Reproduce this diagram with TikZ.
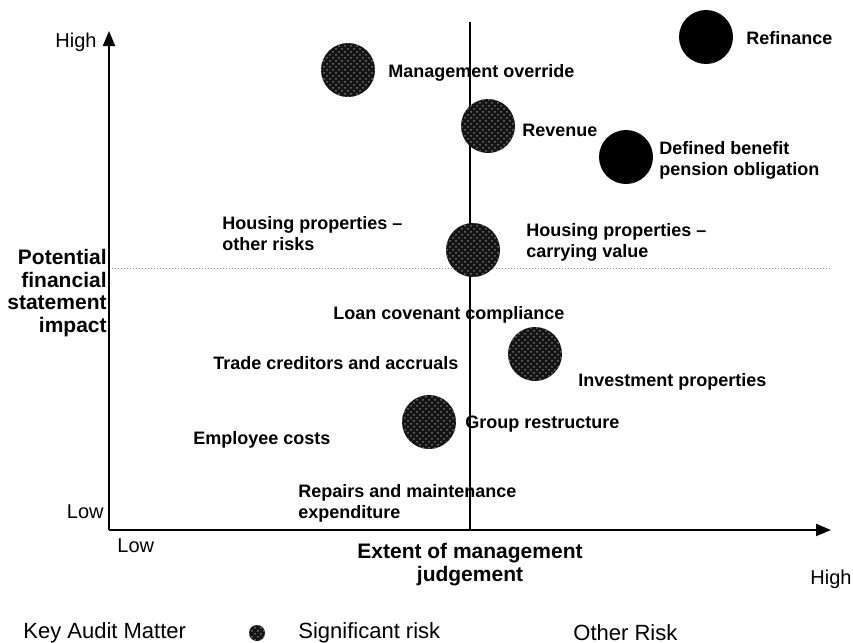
\documentclass[tikz,border=0pt]{standalone}
\usepackage{fontspec}
\setmainfont{Liberation Sans}
\usetikzlibrary{arrows.meta,patterns}

\tikzset{
  sigrisk/.style={circle, inner sep=0pt, minimum size=27pt, fill=black!92,
    postaction={pattern=crosshatch dots, pattern color=black!55}},
  kamrisk/.style={circle, inner sep=0pt, minimum size=27pt, fill=black},
  risklabel/.style={anchor=west, inner sep=0pt, align=left,
    font=\bfseries\fontsize{9}{10.5}\selectfont},
  axislabel/.style={inner sep=0pt, font=\fontsize{10}{12}\selectfont},
  legendlabel/.style={anchor=west, inner sep=0pt, font=\fontsize{11}{13}\selectfont},
  axisline/.style={line width=1pt, -{Triangle[length=7.5pt,width=6pt]}},
}

\begin{document}
\begin{tikzpicture}[x=0.5pt, y=-0.5pt]
\useasboundingbox (0,0) rectangle (853,643);

% Axis end points
\coordinate (origin) at (109,530);
\coordinate (ytop) at (109,31);
\coordinate (xend) at (831,530);
\coordinate (midtop) at (470,22);
\coordinate (midbot) at (470,530);
\coordinate (hleft) at (109,268);
\coordinate (hright) at (832,268);

% Quadrant lines
\draw[black!45, densely dotted, line width=0.5pt] (hleft) -- (hright);
\draw[line width=0.6pt] (midtop) -- (midbot);

% Axes
\draw[axisline] (origin) -- (ytop);
\draw[axisline] (origin) -- (xend);

% Axis labels
\node[axislabel, anchor=east] (yhigh) at (97,42) {High};
\node[axislabel, anchor=east] (ylow) at (104,512) {Low};
\node[axislabel, anchor=west] (xlow) at (117,546) {Low};
\node[axislabel, anchor=west] (xhigh) at (810,579) {High};
\node[anchor=east, inner sep=0pt, align=right, font=\bfseries\fontsize{10.5}{11.4}\selectfont]
  (ytitle) at (107,293) {Potential\\financial\\statement\\impact};
\node[inner sep=0pt, align=center, font=\bfseries\fontsize{10.5}{11.5}\selectfont]
  (xtitle) at (470,565) {Extent of management\\judgement};

% Significant risks
\foreach \name/\px/\py in {mgmt/348/70, rev/488/126, housecarry/473/250, invest/535/354, group/429/422}
  \node[sigrisk] (\name) at (\px,\py) {};

% Key audit matters
\node[kamrisk] (refin) at (706,37) {};
\node[kamrisk] (pension) at (626,157) {};

% Risk labels
\node[risklabel] (lbrefin) at (746,38) {Refinance};
\node[risklabel] (lbmgmt) at (388,73) {Management override};
\node[risklabel] (lbrev) at (522,130) {Revenue};
\node[risklabel] (lbpension) at (659,160) {Defined benefit\\pension obligation};
\node[risklabel] (lbhouseother) at (222,234) {Housing properties –\\other risks};
\node[risklabel] (lbhousecarry) at (526,242) {Housing properties –\\carrying value};
\node[risklabel] (lbloan) at (333,315) {Loan covenant compliance};
\node[risklabel] (lbtrade) at (213,363) {Trade creditors and accruals};
\node[risklabel] (lbinvest) at (578,382) {Investment properties};
\node[risklabel] (lbgroup) at (465,424) {Group restructure};
\node[risklabel] (lbemployee) at (193,440) {Employee costs};
\node[risklabel] (lbrepairs) at (298,503) {Repairs and maintenance\\expenditure};

% Legend
\node[legendlabel] (lgkam) at (23,633) {Key Audit Matter};
\node[sigrisk, minimum size=8pt] (lgicon) at (257,633) {};
\node[legendlabel] (lgsig) at (298,633) {Significant risk};
\node[legendlabel] (lgother) at (573,633) {Other Risk};

\end{tikzpicture}
\end{document}
